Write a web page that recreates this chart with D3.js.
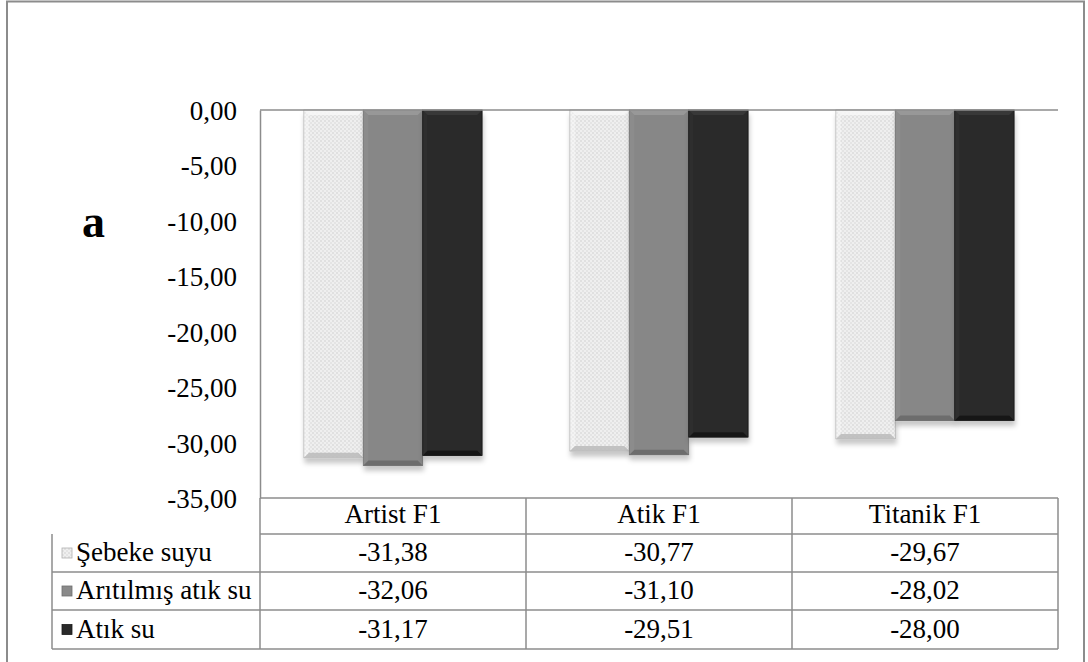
<!DOCTYPE html>
<html><head><meta charset="utf-8">
<script src="https://cdn.jsdelivr.net/npm/d3@7"></script>
<style>body{margin:0;background:#fff}svg{display:block}
svg text{font-family:"Liberation Serif","Times New Roman",Times,serif !important;}</style>
</head><body>
<svg id="c" width="1088" height="662"></svg>
<script>
const categories = ["Artist F1", "Atik F1", "Titanik F1"];
const seriesNames = ["Şebeke suyu", "Arıtılmış atık su", "Atık su"];
const sebekeSuyu = [-31.38, -30.77, -29.67];
const aritilmisAtikSu = [-32.06, -31.10, -28.02];
const atikSu = [-31.17, -29.51, -28.00];
const yTicks = [0, -5, -10, -15, -20, -25, -30, -35];
const seriesValues = [sebekeSuyu, aritilmisAtikSu, atikSu];

(function(){
const svg = d3.select("#c");
const defs = svg.append("defs");

const pat = defs.append("pattern").attr("id","dots").attr("width",4).attr("height",4).attr("patternUnits","userSpaceOnUse");
pat.append("rect").attr("width",4).attr("height",4).attr("fill","#efefef");
pat.append("circle").attr("cx",1).attr("cy",1).attr("r",0.8).attr("fill","#cdcdcd");
pat.append("circle").attr("cx",3).attr("cy",3).attr("r",0.8).attr("fill","#d6d6d6");

const fills = ["url(#dots)", "#878787", "#2a2a2a"];
const edges = ["#b0b0b0", "#6e6e6e", "#1a1a1a"];
const topBevel = ["#f6f6f6", "#9a9a9a", "#3a3a3a"];
const botBevel = ["#bdbdbd", "#6a6a6a", "#151515"];
const sideBevel = ["#ffffff", "#959595", "#333333"];

const filt = defs.append("filter").attr("id","sh").attr("x","-20%").attr("y","-5%").attr("width","140%").attr("height","115%");
filt.append("feDropShadow").attr("dx",1).attr("dy",5).attr("stdDeviation",2.5).attr("flood-color","#000").attr("flood-opacity",0.22);

svg.append("rect").attr("x",7).attr("y",1.5).attr("width",1077).attr("height",670)
  .attr("fill","none").attr("stroke","#8c8c8c").attr("stroke-width",2);

const pLeft = 260, pRight = 1058, pTop = 110, pBottom = 498;
const y = d3.scaleLinear().domain([-35, 0]).range([pBottom, pTop]);
const x0 = d3.scaleBand().domain(categories).range([pLeft, pRight]).paddingInner(0).paddingOuter(0);
const inner = 0.67;
const x1 = d3.scaleBand().domain(seriesNames).range([0, x0.bandwidth()*inner]).padding(0);
const off = x0.bandwidth()*(1-inner)/2;
const fmt = d => d3.format(".2f")(d).replace(".", ",").replace("−","-");

const yAxis = d3.axisLeft(y).tickValues(yTicks).tickSize(0).tickPadding(23).tickFormat(fmt);
const ga = svg.append("g").attr("transform",`translate(${pLeft},0)`).call(yAxis);
ga.attr("font-family", null);
ga.select(".domain").attr("stroke","#8c8c8c").attr("stroke-width",1.5);
ga.selectAll("text").attr("font-size",27).attr("fill","#000").attr("dy","0.35em");

categories.forEach((cat, ci) => {
  seriesValues.forEach((vals, si) => {
    const bx = x0(cat) + off + x1(seriesNames[si]);
    const bw = x1.bandwidth();
    const y0 = y(0), y1v = y(vals[ci]);
    const h = y1v - y0;
    const b = 5;
    const g = svg.append("g").attr("filter","url(#sh)");
    g.append("rect").attr("x",bx).attr("y",y0).attr("width",bw).attr("height",h)
      .attr("fill",fills[si]).attr("stroke",edges[si]).attr("stroke-width",0.8);
    g.append("path").attr("d",`M${bx},${y0}L${bx+bw},${y0}L${bx+bw-b},${y0+b}L${bx+b},${y0+b}Z`)
      .attr("fill",topBevel[si]).attr("opacity",0.9);
    g.append("path").attr("d",`M${bx},${y1v}L${bx+bw},${y1v}L${bx+bw-b},${y1v-b}L${bx+b},${y1v-b}Z`)
      .attr("fill",botBevel[si]).attr("opacity",0.9);
    g.append("path").attr("d",`M${bx},${y0}L${bx+b},${y0+b}L${bx+b},${y1v-b}L${bx},${y1v}Z`)
      .attr("fill",sideBevel[si]).attr("opacity",0.35);
  });
});

svg.append("line").attr("x1",pLeft).attr("x2",pRight).attr("y1",y(0)).attr("y2",y(0))
  .attr("stroke","#8c8c8c").attr("stroke-width",1.5);

svg.append("text").attr("x",82).attr("y",237).attr("font-weight","bold")
  .attr("font-size",46).text("a");

const rowH = [498, 534, 572, 610, 649];
const tLeft = 52;
const line = (a, b, c, d) => svg.append("line").attr("x1",a).attr("y1",b).attr("x2",c).attr("y2",d)
  .attr("stroke","#8c8c8c").attr("stroke-width",1.5);
line(pLeft, rowH[0], pRight, rowH[0]);
line(pLeft, rowH[1], pRight, rowH[1]);
for (let i = 2; i < rowH.length; i++) line(tLeft, rowH[i], pRight, rowH[i]);
line(tLeft, rowH[1], tLeft, rowH[4]);
line(pLeft, rowH[0], pLeft, rowH[4]);
categories.forEach(cat => line(x0(cat)+x0.bandwidth(), rowH[0], x0(cat)+x0.bandwidth(), rowH[4]));

categories.forEach(cat => {
  svg.append("text").attr("x",x0(cat)+x0.bandwidth()/2).attr("y",(rowH[0]+rowH[1])/2+7)
    .attr("text-anchor","middle").attr("font-size",27).text(cat);
});
const keyFills = ["url(#dots)", "#8a8a8a", "#2a2a2a"];
seriesNames.forEach((s, si) => {
  const cy = (rowH[si+1]+rowH[si+2])/2;
  svg.append("rect").attr("x",62).attr("y",cy-5).attr("width",10).attr("height",10)
    .attr("fill",keyFills[si]).attr("stroke",edges[si]).attr("stroke-width",0.8);
  svg.append("text").attr("x",76).attr("y",cy+8).attr("font-size",27).text(s);
  categories.forEach((cat, ci) => {
    svg.append("text").attr("x",x0(cat)+x0.bandwidth()/2).attr("y",cy+8)
      .attr("text-anchor","middle").attr("font-size",27)
      .text(fmt(seriesValues[si][ci]));
  });
});
})();
</script>
</body></html>
